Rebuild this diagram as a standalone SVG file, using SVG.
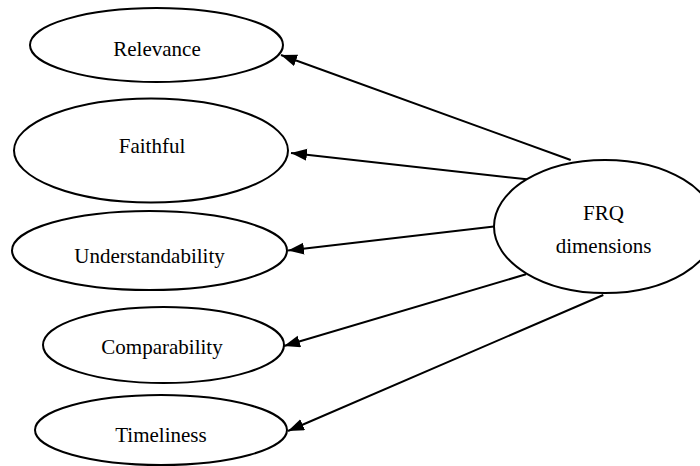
<svg xmlns="http://www.w3.org/2000/svg" width="700" height="466" viewBox="0 0 700 466">
<defs>
<style>
.n{fill:#fff;stroke:#000;stroke-width:2}
.t{font-family:"Liberation Serif","Times New Roman",serif;font-size:21px;fill:#000;text-anchor:middle}
.e{stroke:#000;stroke-width:2;fill:none;marker-end:url(#ah)}
</style>
<marker id="ah" markerUnits="userSpaceOnUse" markerWidth="18" markerHeight="14" refX="16" refY="6" orient="auto">
<path d="M0,0 L16,6 L0,12 z" fill="#000"/>
</marker>
</defs>
<rect width="700" height="466" fill="#fff"/>
<g id="connectors">
<line class="e" x1="570.7" y1="160" x2="281" y2="55"/>
<line class="e" x1="526.7" y1="179.3" x2="291" y2="153"/>
<line class="e" x1="494" y1="226.5" x2="288" y2="250.5"/>
<line class="e" x1="526" y1="274.3" x2="284" y2="346"/>
<line class="e" x1="603.3" y1="295" x2="288" y2="431"/>
</g>
<g id="relevance">
<ellipse class="n" cx="156.5" cy="45" rx="126.5" ry="37"/>
<text class="t" x="157" y="56">Relevance</text>
</g>
<g id="faithful">
<ellipse class="n" cx="151" cy="150.5" rx="137" ry="52"/>
<text class="t" x="152" y="153">Faithful</text>
</g>
<g id="understandability">
<ellipse class="n" cx="149.5" cy="250.5" rx="137.5" ry="39.5"/>
<text class="t" x="149.5" y="262.5">Understandability</text>
</g>
<g id="comparability">
<ellipse class="n" cx="163.5" cy="345" rx="120.5" ry="38"/>
<text class="t" x="162" y="354">Comparability</text>
</g>
<g id="timeliness">
<ellipse class="n" cx="161" cy="430" rx="126" ry="35"/>
<text class="t" x="161" y="442">Timeliness</text>
</g>
<g id="frq">
<ellipse class="n" cx="605" cy="226.5" rx="111" ry="66.5"/>
<text class="t" x="603.5" y="220">FRQ</text>
<text class="t" x="603.5" y="253">dimensions</text>
</g>
</svg>
